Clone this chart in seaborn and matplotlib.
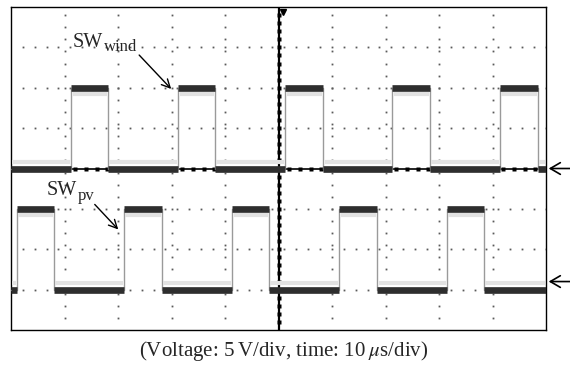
import numpy as np
import pandas as pd
import matplotlib
matplotlib.use("Agg")
import matplotlib.pyplot as plt
import seaborn as sns

# Switching edges (time in microseconds) and logic levels (volts on screen)
wind_rise = [11.3, 31.3, 51.3, 71.3, 91.4]
wind_fall = [18.2, 38.2, 58.4, 78.3, 98.5]
wind_low, wind_high = 0.0, 10.0

pv_rise = [1.1, 21.2, 41.4, 61.4, 81.5]
pv_fall = [8.1, 28.3, 48.3, 68.5, 88.4]
pv_low, pv_high = -15.0, -5.0

ground_markers = [0.0, -14.0]
caption = "(Voltage: 5\u2009V/div, time: 10\u2009$\\mu$s/div)"

T_SPAN = 100.0   # 10 div x 10 us
V_SPAN = 20.0    # 4 div x 5 V each side


def square_wave(rise, fall, low, high, name):
    t, v = [0.0], [low]
    for r, f in zip(rise, fall):
        t += [r, r, f, f]
        v += [low, high, high, low]
    t.append(T_SPAN)
    v.append(low)
    return pd.DataFrame({"time": t, "volt": v, "channel": name})


def level_segments(rise, fall):
    highs = list(zip(rise, fall))
    edges = [0.0] + [x for pair in zip(rise, fall) for x in pair] + [T_SPAN]
    lows = [(edges[i], edges[i + 1]) for i in range(0, len(edges), 2)]
    return highs, lows


waves = pd.concat([
    square_wave(wind_rise, wind_fall, wind_low, wind_high, "wind"),
    square_wave(pv_rise, pv_fall, pv_low, pv_high, "pv"),
], ignore_index=True)

sns.set_theme(style="white")
plt.rcParams["font.family"] = ["Liberation Serif", "DejaVu Serif"]
plt.rcParams["mathtext.fontset"] = "stix"

fig = plt.figure(figsize=(5.7, 3.66), dpi=100)
ax = fig.add_axes([11 / 570, 1 - 330 / 366, 535 / 570, 323 / 366])
ax.set_xlim(0, T_SPAN)
ax.set_ylim(-V_SPAN, V_SPAN)

# dotted graticule
dot_kw = dict(ls="none", marker="s", ms=1.3, mec="none", mfc="#5a5a5a", zorder=1)
ys = np.arange(-V_SPAN + 1.5, V_SPAN, 1.5)
for gx in [10, 20, 30, 40, 60, 70, 80, 90]:
    ax.plot(np.full_like(ys, gx), ys, **dot_kw)
xs = np.arange(2.2, T_SPAN, 100 / 45)
for gy in [-15, -10, -5, 5, 10, 15]:
    ax.plot(xs, np.full_like(xs, gy), **dot_kw)

# centre axes with minor ticks
ax.axhline(0, color="black", lw=1.2, zorder=2)
ax.axvline(50, color="black", lw=1.6, zorder=2)
tx = np.arange(2, T_SPAN, 2.0)
ax.plot(tx, np.zeros_like(tx), ls="none", marker="s", ms=2.6, mec="none",
        mfc="black", zorder=2)
ty = np.arange(-V_SPAN + 1, V_SPAN, 1.0)
ax.plot(np.full_like(ty, 50), ty, ls="none", marker="s", ms=2.6, mec="none",
        mfc="black", zorder=2)
ax.plot([50.8], [19.35], marker="v", ms=5, color="black", clip_on=False, zorder=5)

# switching traces: thin fast edges
sns.lineplot(data=waves, x="time", y="volt", units="channel", estimator=None,
             sort=False, color="#9a9a9a", lw=1.0, ax=ax, legend=False, zorder=3)

# thick plateaus with faint persistence on the inner side
for rise, fall, low, high in [(wind_rise, wind_fall, wind_low, wind_high),
                              (pv_rise, pv_fall, pv_low, pv_high)]:
    highs, lows = level_segments(rise, fall)
    for a, b in highs:
        ax.hlines(high - 0.8, a + 0.2, b - 0.2, color="#e2e2e2", lw=3.0, zorder=3)
        ax.hlines(high, a, b, color="#2e2e2e", lw=4.8, zorder=4)
    for a, b in lows:
        ax.hlines(low + 0.8, a + 0.2, b - 0.2, color="#e2e2e2", lw=3.0, zorder=3)
        ax.hlines(low, a, b, color="#2e2e2e", lw=4.8, zorder=4)

# channel labels
ax.text(11.6, 15.05, "SW", fontsize=14.5, ha="left", va="baseline", zorder=6)
ax.text(17.3, 14.55, "wind", fontsize=12, ha="left", va="baseline", zorder=6)
ax.annotate("", xy=(30.3, 9.6), xytext=(23.6, 14.3),
            arrowprops=dict(arrowstyle="->,head_length=0.5,head_width=0.25",
                            color="black", lw=1.0), zorder=6)
ax.text(6.7, -3.3, "SW", fontsize=14.5, ha="left", va="baseline", zorder=6)
ax.text(12.4, -3.95, "pv", fontsize=12, ha="left", va="baseline", zorder=6)
ax.annotate("", xy=(20.4, -7.8), xytext=(15.3, -4.2),
            arrowprops=dict(arrowstyle="->,head_length=0.5,head_width=0.25",
                            color="black", lw=1.0), zorder=6)

# ground reference arrows outside the screen
for gv in ground_markers:
    ax.annotate("", xy=(100.5, gv), xytext=(104.8, gv), annotation_clip=False,
                arrowprops=dict(arrowstyle="->,head_length=0.6,head_width=0.35",
                                color="black", lw=1.2, shrinkA=0, shrinkB=0))

ax.set_xticks([])
ax.set_yticks([])
ax.set_xlabel("")
ax.set_ylabel("")
for s in ax.spines.values():
    s.set_visible(True)
    s.set_color("black")
    s.set_linewidth(1.0)

fig.text(284 / 570, 1 - 351 / 366, caption, fontsize=15, ha="center", va="center")

fig.savefig("out.png", dpi=100)
